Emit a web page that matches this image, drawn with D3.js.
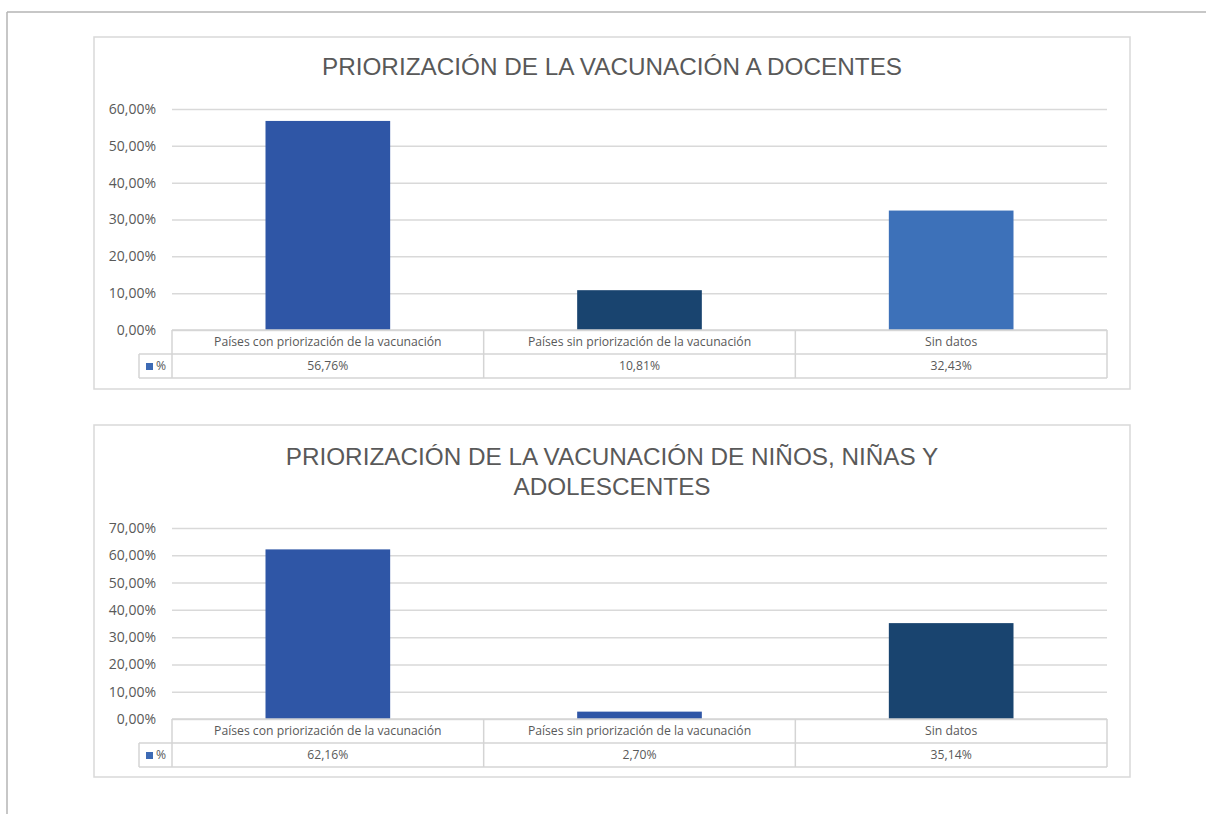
<!DOCTYPE html>
<html><head><meta charset="utf-8">
<script src="https://cdn.jsdelivr.net/npm/d3@7"></script>
<style>
html,body{margin:0;padding:0;background:#fff;}
svg{display:block;}
</style></head>
<body>
<svg id="c" width="1206" height="814"></svg>
<script>
const categories = ["Países con priorización de la vacunación","Países sin priorización de la vacunación","Sin datos"];
const seriesName = "%";
const docentesValues = [56.76, 10.81, 32.43];
const ninosValues = [62.16, 2.70, 35.14];
const docentesTicks = [0,10,20,30,40,50,60];
const ninosTicks = [0,10,20,30,40,50,60,70];
const docentesTitle = ["PRIORIZACIÓN DE LA VACUNACIÓN A DOCENTES"];
const ninosTitle = ["PRIORIZACIÓN DE LA VACUNACIÓN DE NIÑOS, NIÑAS Y","ADOLESCENTES"];
const docentesColors = ["#2F56A6","#19446F","#3D71B9"];
const ninosColors = ["#2F56A6","#2F56A6","#19446F"];

const svg = d3.select("#c");
const fmt = v => d3.format(".2f")(v).replace(".", ",") + "%";
const tableFont = "'Open Sans','Noto Sans',sans-serif";
const titleFont = "'Liberation Sans',Arial,sans-serif";

svg.append("line").attr("x1",7).attr("x2",1206).attr("y1",12).attr("y2",12).attr("stroke","#b4b4b4").attr("stroke-width",1.5);
svg.append("line").attr("x1",7).attr("x2",7).attr("y1",12).attr("y2",814).attr("stroke","#b4b4b4").attr("stroke-width",1.5);

function drawChart(cfg){
  const g = svg.append("g");
  g.append("rect").attr("x",cfg.box[0]).attr("y",cfg.box[1]).attr("width",cfg.box[2]-cfg.box[0]).attr("height",cfg.box[3]-cfg.box[1])
    .attr("fill","#fff").attr("stroke","#d9d9d9").attr("stroke-width",1.5);
  cfg.title.forEach((t,i)=>{
    g.append("text").attr("x",612).attr("y",cfg.titleY + i*30).attr("text-anchor","middle").attr("dominant-baseline","middle")
      .style("font-family",titleFont).style("font-size","24.3px").attr("fill","#595959").text(t);
  });
  const x = d3.scaleBand().domain(categories).range([cfg.left, cfg.right]).paddingInner(0).paddingOuter(0);
  const y = d3.scaleLinear().domain([0, d3.max(cfg.ticks)]).range([cfg.zero, cfg.top]);
  const yAxis = d3.axisLeft(y).tickValues(cfg.ticks).tickSize(-(cfg.right-cfg.left)).tickFormat(d=>fmt(d)).tickPadding(16);
  const ga = g.append("g").attr("transform",`translate(${cfg.left},0)`).call(yAxis);
  ga.select(".domain").remove();
  ga.selectAll(".tick line").attr("stroke","#d9d9d9").attr("stroke-width",1.5);
  ga.selectAll(".tick text").style("font-size","14px").attr("fill","#595959").attr("x",-16).style("font-family",tableFont);
  const bw = x.bandwidth()*0.4;
  g.selectAll("rect.bar").data(cfg.values).enter().append("rect").attr("class","bar")
    .attr("x",(d,i)=>x(categories[i]) + x.bandwidth()/2 - bw/2)
    .attr("y",d=>y(d)).attr("width",bw).attr("height",d=>y(0)-y(d))
    .attr("fill",(d,i)=>cfg.colors[i]);
  const r0 = cfg.zero, r1 = cfg.zero + cfg.rowH, r2 = cfg.zero + 2*cfg.rowH;
  const lc = "#d4d4d4";
  const line = (x1,y1,x2,y2)=>g.append("line").attr("x1",x1).attr("y1",y1).attr("x2",x2).attr("y2",y2).attr("stroke",lc).attr("stroke-width",1.5);
  line(cfg.left, r0, cfg.right, r0);
  line(cfg.legendLeft, r1, cfg.right, r1);
  line(cfg.legendLeft, r2, cfg.right, r2);
  line(cfg.legendLeft, r1, cfg.legendLeft, r2);
  line(cfg.left, r0, cfg.left, r2);
  categories.forEach((c,i)=>{ line(x(c)+x.bandwidth(), r0, x(c)+x.bandwidth(), r2); });
  categories.forEach((c,i)=>{
    g.append("text").attr("x",x(c)+x.bandwidth()/2).attr("y",(r0+r1)/2+1).attr("text-anchor","middle").attr("dominant-baseline","middle")
      .style("font-size","12.2px").style("font-family",tableFont).attr("fill","#595959").text(c);
    g.append("text").attr("x",x(c)+x.bandwidth()/2).attr("y",(r1+r2)/2+1).attr("text-anchor","middle").attr("dominant-baseline","middle")
      .style("font-size","12.2px").style("font-family",tableFont).attr("fill","#595959").text(fmt(cfg.values[i]));
  });
  g.append("rect").attr("x",cfg.legendLeft+7).attr("y",(r1+r2)/2-3).attr("width",7).attr("height",7).attr("fill","#3D6AB4");
  g.append("text").attr("x",cfg.legendLeft+17).attr("y",(r1+r2)/2+1).attr("dominant-baseline","middle")
      .style("font-size","12.2px").style("font-family",tableFont).attr("fill","#595959").text(seriesName);
}

drawChart({box:[94,37,1130,389], title:docentesTitle, titleY:69, left:172, right:1107, top:109, zero:330, rowH:24, legendLeft:139,
  ticks:docentesTicks, values:docentesValues, colors:docentesColors});
drawChart({box:[94,425,1130,777], title:ninosTitle, titleY:459, left:172, right:1107, top:528, zero:719, rowH:24, legendLeft:139,
  ticks:ninosTicks, values:ninosValues, colors:ninosColors});
</script>
</body></html>
